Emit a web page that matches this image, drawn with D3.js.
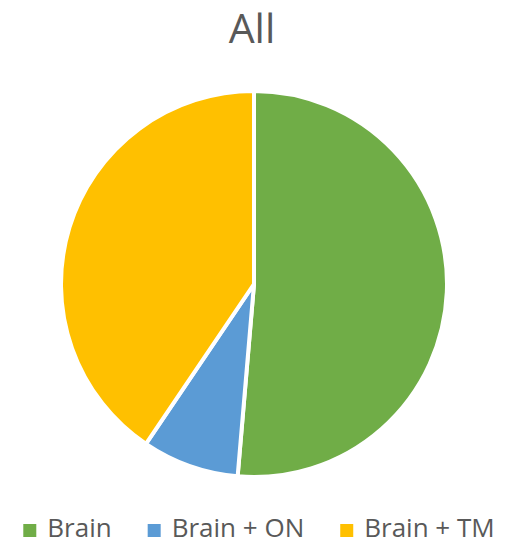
<!DOCTYPE html>
<html>
<head>
<meta charset="utf-8">
<script src="https://cdn.jsdelivr.net/npm/d3@7"></script>
<style>
  html, body { margin: 0; padding: 0; background: #fff; }
  svg { display: block; font-family: "Open Sans", "DejaVu Sans", sans-serif; }
</style>
</head>
<body>
<svg id="chart" width="507" height="545"></svg>
<script>
// Case counts per group
const categories = ["Brain", "Brain + ON", "Brain + TM"];
const counts = [19, 3, 15];
const colors = ["#70AD47", "#5B9BD5", "#FFC000"];
const title = "All";

const W = 507, H = 545;
const svg = d3.select("#chart");

svg.append("text")
  .attr("x", 252)
  .attr("y", 43)
  .attr("text-anchor", "middle")
  .attr("font-size", 41)
  .attr("fill", "#595959")
  .text(title);

const cx = 254, cy = 284, r = 193;
const data = categories.map((c, i) => ({ name: c, value: counts[i], color: colors[i] }));

const pie = d3.pie().value(d => d.value).sort(null);
const arc = d3.arc().innerRadius(0).outerRadius(r);

svg.append("g")
  .attr("transform", `translate(${cx},${cy})`)
  .selectAll("path")
  .data(pie(data))
  .join("path")
  .attr("d", arc)
  .attr("fill", d => d.data.color)
  .attr("stroke", "#fff")
  .attr("stroke-width", 4)
  .attr("stroke-linejoin", "round");

// Legend along the bottom
const legend = svg.append("g");
const sq = 13, gapText = 11, gapItem = 36, fs = 26;
const items = legend.selectAll("g.item")
  .data(data)
  .join("g")
  .attr("class", "item");
items.append("rect")
  .attr("width", sq).attr("height", sq)
  .attr("y", -sq)
  .attr("fill", d => d.color);
items.append("text")
  .attr("x", sq + gapText)
  .attr("font-size", fs)
  .attr("fill", "#595959")
  .text(d => d.name);

const widths = [];
items.each(function () {
  const t = d3.select(this).select("text").node().getComputedTextLength();
  widths.push(sq + gapText + t);
});
const total = d3.sum(widths) + gapItem * (widths.length - 1);
let x = 259 - total / 2;
items.attr("transform", (d, i) => {
  const tx = x;
  x += widths[i] + gapItem;
  return `translate(${tx},537)`;
});
</script>
</body>
</html>
